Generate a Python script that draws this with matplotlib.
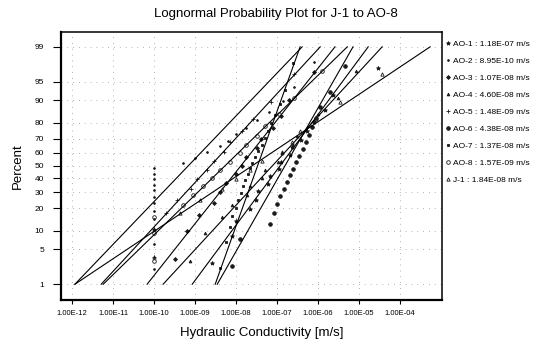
#!/usr/bin/env python3
"""
Lognormal probability plot, J-1 to AO-8
"""

from statistics import NormalDist
import numpy as np
import matplotlib
matplotlib.use("Agg")
import matplotlib.pyplot as plt

plt.rcParams['font.family'] = ['Liberation Sans', 'DejaVu Sans']

# well names and legend values (geometric mean, m/s)
wells = ["AO-1", "AO-2", "AO-3", "AO-4", "AO-5", "AO-6", "AO-7", "AO-8", "J-1"]
geo_mean = [1.18e-07, 8.95e-10, 1.07e-08, 4.60e-08, 1.48e-09,
            4.38e-08, 1.37e-08, 1.57e-09, 1.84e-08]
# fitted lines: log10 K at 1 % and at 99 %
fit_lo = [-9.07, -11.93, -10.17, -9.78, -11.29, -8.46, -8.51, -11.24, -11.93]
fit_hi = [-4.78, -6.39, -5.59, -4.44, -5.95, -5.15, -6.44, -5.29, -3.27]

# measured log10 K per well (1e-10 = lower limit of the test)
ao1 = [-8.59, -8.10, -8.0, -7.66, -7.51, -7.46, -7.22, -7.17, -6.95, -6.90,
       -6.68, -6.63, -6.41, -6.27, -6.10, -5.83, -5.63, -4.54]
ao2 = [-10.0, -10.0, -10.0, -10.0, -10.0, -10.0, -10.0, -10.0, -10.0, -10.0,
       -10.0, -10.0, -9.3, -9.0, -8.7, -8.4, -8.2, -8.0, -7.75, -7.5,
       -7.2, -6.85, -6.6, -6.1]
ao3 = [-9.5, -9.2, -8.9, -8.55, -8.4, -8.25, -8.0, -7.85, -7.75, -7.5,
       -7.4, -7.1, -6.9, -6.7, -6.1]
ao4 = [-9.12, -8.76, -8.34, -8.10, -7.73, -7.66, -7.37, -7.29, -6.98, -6.88,
       -6.61, -6.51, -6.15, -6.0, -5.51, -5.07]
ao5 = [-10.0, -10.0, -9.7, -9.45, -9.1, -8.95, -8.7, -8.55, -8.3, -8.15,
       -7.85, -7.6, -7.15, -6.6]
ao6 = [-8.1, -7.9, -7.17, -7.07, -7.0, -6.93, -6.83, -6.76, -6.68, -6.61,
       -6.54, -6.46, -6.37, -6.29, -6.22, -6.15, -6.05, -5.95, -5.71, -5.34]
ao7 = [-8.39, -8.24, -8.15, -8.10, -8.0, -7.95, -7.88, -7.83, -7.78, -7.71,
       -7.66, -7.61, -7.54, -7.46, -7.37, -7.29, -7.22, -7.15, -7.05, -6.93,
       -6.80, -6.61]
ao8 = [-10.0, -10.0, -10.0, -9.3, -9.05, -8.8, -8.6, -8.4, -8.15, -7.9,
       -7.75, -7.5, -7.3, -6.95, -6.6, -5.9]
j1 = [-10.0, -10.0, -9.37, -8.88, -8.34, -8.0, -7.66, -7.37, -6.88, -6.63,
      -6.44, -6.05, -5.46, -4.44]
well_logk = [ao1, ao2, ao3, ao4, ao5, ao6, ao7, ao8, j1]

markers = ['*', '.', 'D', '^', '+', 'o', 's', 'o', '^']
filled = [True, True, True, True, True, True, True, False, False]
msizes = [3.0, 2.5, 2.0, 2.0, 3.0, 2.6, 2.0, 2.6, 2.4]

pct_ticks = [1, 5, 10, 20, 30, 40, 50, 60, 70, 80, 90, 95, 99]
k_ticks = [1e-12, 1e-11, 1e-10, 1e-09, 1e-08, 1e-07, 1e-06, 1e-05, 1e-04]

nd = NormalDist()
_ppf = np.vectorize(lambda p: nd.inv_cdf(min(max(p / 100.0, 1e-9), 1 - 1e-9)),
                    otypes=[float])
_cdf = np.vectorize(lambda z: nd.cdf(z) * 100.0, otypes=[float])


def probit(p):
    return _ppf(np.asarray(p, dtype=float))


def inv_probit(z):
    return _cdf(np.asarray(z, dtype=float))


fig = plt.figure(figsize=(5.53, 3.5), dpi=100)
ax = fig.add_axes([0.1103, 0.1429, 0.689, 0.766])
ax.set_xscale('log')
ax.set_yscale('function', functions=(probit, inv_probit))

for i, name in enumerate(wells):
    vals = np.sort(np.array(well_logk[i]))
    n = len(vals)
    pos = (np.arange(1, n + 1) - 0.5) / n * 100.0
    face = '0.1' if filled[i] else 'none'
    ax.plot(10 ** vals, pos, linestyle='none', marker=markers[i],
            markersize=msizes[i], markerfacecolor=face,
            markeredgecolor='0.1', markeredgewidth=0.6,
            label=f"{name} : {geo_mean[i]:.2E} m/s")
    ax.plot([10 ** fit_lo[i], 10 ** fit_hi[i]], [1, 99],
            color='black', linewidth=0.8)

ax.set_xlim(10 ** -12.27, 10 ** -2.98)
ax.set_ylim(0.42, 99.56)
ax.set_xticks(k_ticks)
ax.set_xticklabels([f"{k:.2E}" for k in k_ticks], fontsize=5.5)
ax.xaxis.set_minor_locator(matplotlib.ticker.NullLocator())
ax.set_yticks(pct_ticks)
ax.set_yticklabels([str(p) for p in pct_ticks], fontsize=6)
ax.yaxis.set_minor_locator(matplotlib.ticker.NullLocator())
ax.tick_params(axis='x', direction='out', length=3, width=0.8, pad=4)
ax.tick_params(axis='y', direction='out', length=6, width=0.8, pad=6)

ax.grid(True, color='0.6', linestyle=(0, (1, 6)), linewidth=0.6)
for side, s in ax.spines.items():
    s.set_linewidth(1.6 if side in ('left', 'bottom') else 1.1)

fig.text(276 / 553, 1 - 14 / 350, "Lognormal Probability Plot for J-1 to AO-8",
         fontsize=9.5, ha='center', va='center')
ax.set_xlabel("Hydraulic Conductivity [m/s]", fontsize=9.5)
ax.xaxis.set_label_coords((262 - 61) / 381, -27 / 268)
ax.set_ylabel("Percent", fontsize=9.5, labelpad=8)

ax.legend(loc='upper left', bbox_to_anchor=(1.0, 0.985), frameon=False,
          fontsize=6, handlelength=0.5, handletextpad=0.3, labelspacing=1.1,
          borderaxespad=0.1)

fig.savefig('out.png', dpi=100)
